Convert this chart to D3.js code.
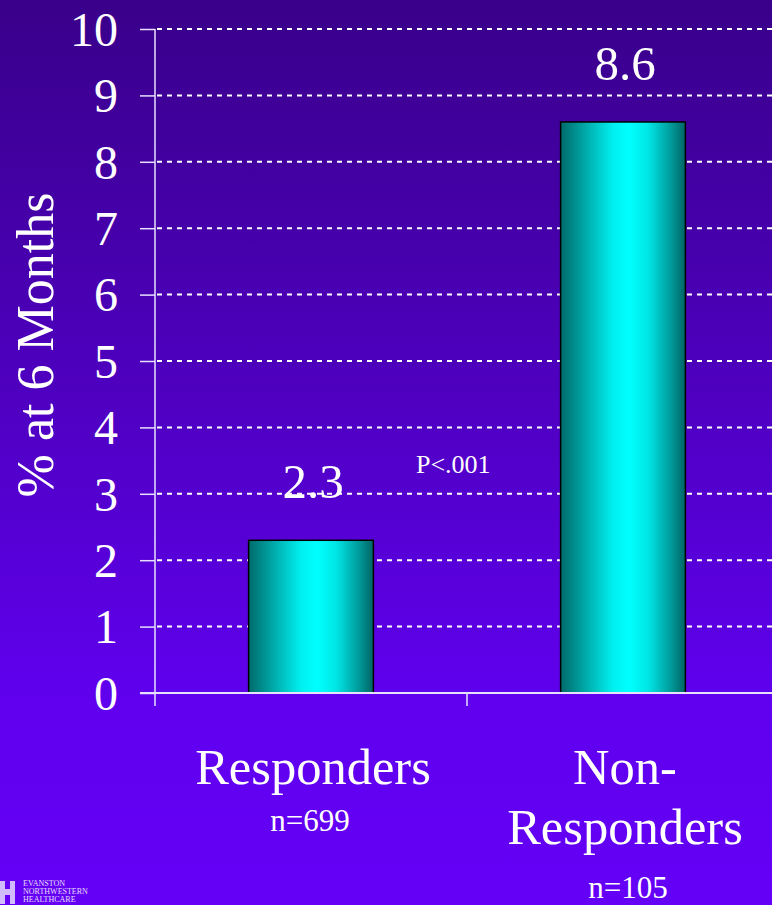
<!DOCTYPE html>
<html>
<head>
<meta charset="utf-8">
<script src="https://cdn.jsdelivr.net/npm/d3@7"></script>
<style>
  html, body { margin: 0; padding: 0; background: #5000c8; }
  svg { display: block; }
  text { font-family: "Liberation Serif", "Times New Roman", serif; fill: #ffffff; }
</style>
</head>
<body>
<svg id="chart" width="772" height="905"></svg>
<script>
// Chart data
const categories = ["Responders", "Non-Responders"];
const categoryLines = [["Responders"], ["Non-", "Responders"]];
const sampleSizes = ["n=699", "n=105"];
const values = [2.3, 8.6];
const valueLabels = ["2.3", "8.6"];
const yTicks = [0, 1, 2, 3, 4, 5, 6, 7, 8, 9, 10];
const yTitle = "% at 6 Months";
const pValue = "P<.001";

const W = 772, H = 905;
const svg = d3.select("#chart");
const defs = svg.append("defs");

// Background: deep purple fading to bright violet
const bg = defs.append("linearGradient").attr("id", "bg")
  .attr("x1", 0).attr("y1", 0).attr("x2", 0).attr("y2", 1);
bg.append("stop").attr("offset", "0%").attr("stop-color", "#39008a");
bg.append("stop").attr("offset", "45%").attr("stop-color", "#4f00c2");
bg.append("stop").attr("offset", "78%").attr("stop-color", "#6000ef");
bg.append("stop").attr("offset", "100%").attr("stop-color", "#6400f6");
svg.append("rect").attr("width", W).attr("height", H).attr("fill", "url(#bg)");

// Cylinder-style shading for bars
const barGrad = defs.append("linearGradient").attr("id", "barShade")
  .attr("x1", 0).attr("y1", 0).attr("x2", 1).attr("y2", 0);
[["0%", "#006a6a"], ["18%", "#00a3a3"], ["42%", "#00f0f0"], ["55%", "#00ffff"],
 ["70%", "#00e6e6"], ["88%", "#009c9c"], ["100%", "#006464"]]
  .forEach(([o, c]) => barGrad.append("stop").attr("offset", o).attr("stop-color", c));

// Scales
const y = d3.scaleLinear().domain([0, 10]).range([693, 29]);
const x = d3.scaleBand().domain(categories).range([155, 779])
  .paddingInner(0.6).paddingOuter(0.3);

const axisColor = "#e8e0ff";

// Dashed gridlines
svg.append("g").selectAll("line")
  .data(yTicks.filter(d => d > 0))
  .join("line")
  .attr("x1", 157).attr("x2", W)
  .attr("y1", d => y(d)).attr("y2", d => y(d))
  .attr("stroke", "#ffffff").attr("stroke-width", 2)
  .attr("stroke-dasharray", "5,5");

// Bars
svg.append("g").selectAll("rect")
  .data(values)
  .join("rect")
  .attr("x", (d, i) => x(categories[i]))
  .attr("y", d => y(d))
  .attr("width", x.bandwidth())
  .attr("height", d => y(0) - y(d))
  .attr("fill", "url(#barShade)")
  .attr("stroke", "#000000").attr("stroke-width", 1.5);

// Y axis
const yAxis = svg.append("g").attr("transform", "translate(155,0)")
  .call(d3.axisLeft(y).tickValues(yTicks).tickSize(15).tickPadding(22).tickFormat(d3.format("d")));
yAxis.select(".domain").remove();
yAxis.selectAll(".tick line").attr("stroke", axisColor).attr("stroke-width", 1.5);
yAxis.selectAll(".tick text")
  .attr("fill", "#ffffff").attr("font-size", 48)
  .attr("font-family", "'Liberation Serif', 'Times New Roman', serif")
  .attr("dy", "0.34em");
yAxis.append("line").attr("x1", 0).attr("x2", 0).attr("y1", y(10)).attr("y2", 706)
  .attr("stroke", axisColor).attr("stroke-width", 1.5);

// X axis baseline and category dividers
svg.append("line").attr("x1", 140).attr("x2", W).attr("y1", y(0)).attr("y2", y(0))
  .attr("stroke", axisColor).attr("stroke-width", 2);
const step = x.step();
svg.append("g").selectAll("line")
  .data(d3.range(1, categories.length + 1))
  .join("line")
  .attr("x1", i => 155 + i * step).attr("x2", i => 155 + i * step)
  .attr("y1", y(0)).attr("y2", 706)
  .attr("stroke", axisColor).attr("stroke-width", 1.5);

// Value labels above bars
svg.append("g").selectAll("text")
  .data(values)
  .join("text")
  .attr("x", (d, i) => x(categories[i]) + x.bandwidth() / 2 + 2)
  .attr("y", d => y(d) - 42)
  .attr("text-anchor", "middle").attr("font-size", 49)
  .text((d, i) => valueLabels[i]);

// Significance note
svg.append("text").attr("x", 416).attr("y", 473)
  .attr("font-size", 26).text(pValue);

// Category labels with sample sizes
categories.forEach((c, i) => {
  const cx = x(c) + x.bandwidth() / 2 + 2;
  const lines = categoryLines[i];
  lines.forEach((ln, j) => {
    svg.append("text").attr("x", cx).attr("y", 784 + j * 60)
      .attr("text-anchor", "middle").attr("font-size", 50.5).text(ln);
  });
  svg.append("text").attr("x", cx - 3 + i * 6).attr("y", 831 + (lines.length - 1) * 67)
    .attr("text-anchor", "middle").attr("font-size", 31).text(sampleSizes[i]);
});

// Y axis title
svg.append("text")
  .attr("transform", "translate(53,345) rotate(-90)")
  .attr("text-anchor", "middle").attr("font-size", 52)
  .text(yTitle);

// Corner logo
const logo = svg.append("g").attr("transform", "translate(0,878)").attr("opacity", 0.85);
logo.append("path")
  .attr("d", "M0,3 h5 v8 h5 v-8 h5 v23 h-5 v-9 h-5 v9 h-5 z")
  .attr("fill", "#e6dcff");
["EVANSTON", "NORTHWESTERN", "HEALTHCARE"].forEach((t, i) => {
  logo.append("text").attr("x", 23).attr("y", 8 + i * 8)
    .attr("font-size", 8).attr("fill", "#e6dcff").text(t);
});
</script>
</body>
</html>
